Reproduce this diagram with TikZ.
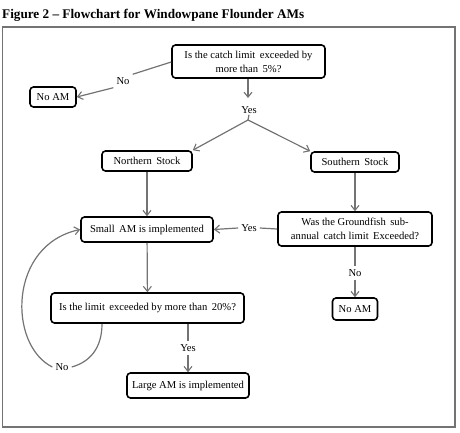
\documentclass[tikz,border=0pt]{standalone}
\usepackage{fontspec}
\setmainfont{Liberation Serif}
\usetikzlibrary{arrows.meta}
\begin{document}
\begin{tikzpicture}[x=1pt,y=-1pt,
  box/.style={draw=black,line width=1.6pt,rounded corners=3.5pt,fill=white,inner sep=0pt,align=center,font=\fontsize{10.6}{14}\selectfont},
  lbl/.style={inner sep=3pt,font=\fontsize{10.6}{14}\selectfont},
  conn/.style={draw=gray!90!black,line width=1.2pt},
  arr/.style={conn,-{Straight Barb[length=5pt,width=8pt,line width=1.1pt]}}]
\useasboundingbox (0,0) rectangle (460,433);
\node[anchor=west,inner sep=0pt,font=\fontsize{13.2}{15}\selectfont\bfseries] (title) at (2,15) {Figure 2 – Flowchart for Windowpane Flounder AMs};
\draw[draw=gray!90!black,line width=1.2pt] (2.5,27) rectangle (455,427);
\node[box,minimum width=153pt,minimum height=33pt] (q1) at (248.5,61.5) {Is the catch limit\, exceeded by\\more than\, 5\%?};
\node[box,minimum width=46pt,minimum height=20pt] (noam1) at (53,97) {No AM};
\node[lbl] (no1) at (123,81) {No};
\node[lbl,inner sep=1pt] (yes1) at (249,110) {Yes};
\coordinate (apex) at (248,120);
\node[box,minimum width=90pt,minimum height=20pt] (north) at (147,161) {Northern\, Stock};
\node[box,minimum width=88pt,minimum height=20pt] (south) at (355,162) {Southern\, Stock};
\node[box,minimum width=132pt,minimum height=25pt] (small) at (147,229.5) {Small\, AM is implemented};
\node[box,minimum width=154pt,minimum height=34pt] (q2) at (355,229) {Was the Groundfish\, sub-\\annual\, catch limit\, Exceeded?};
\node[lbl] (yes2) at (249,228) {Yes};
\node[lbl] (no2) at (355,273) {No};
\node[box,minimum width=45pt,minimum height=22pt] (noam2) at (355,309) {No AM};
\node[box,minimum width=193pt,minimum height=30pt] (q3) at (147.5,308) {Is the limit\, exceeded by more than\, 20\%?};
\node[lbl] (yes3) at (188,348) {Yes};
\node[box,minimum width=122pt,minimum height=25pt] (large) at (188,385.5) {Large AM is implemented};
\node[lbl] (no3) at (62,367) {No};
% connectors
\draw[conn] (q1.west |- 0,62) -- (no1.north east);
\draw[arr] (no1.south west) -- (noam1.east);
\draw[arr] (q1.south -| 248,0) -- (248,98);
\draw[conn] (yes1.south) -- (apex);
\draw[arr] (apex) -- (north.north east);
\draw[arr] (apex) -- (south.north west);
\draw[arr] (north) -- (small);
\draw[arr] (south) -- (q2);
\draw[conn] (q2.west) -- (yes2.east);
\draw[arr] (yes2.west) -- (small.east);
\draw[conn] (q2.south) -- (no2.north);
\draw[arr] (no2.south) -- (noam2.north);
\draw[arr] (small) -- (q3);
\draw[conn] (q3.south -| yes3) -- (yes3.north);
\draw[arr] (yes3.south) -- (large.north -| yes3);
\draw[conn] (q3.south -| 102,0) .. controls (102,348) and (90,362) .. (no3.east);
\draw[arr] (no3.west) .. controls (8,345) and (8,245) .. (small.west);
\end{tikzpicture}
\end{document}
